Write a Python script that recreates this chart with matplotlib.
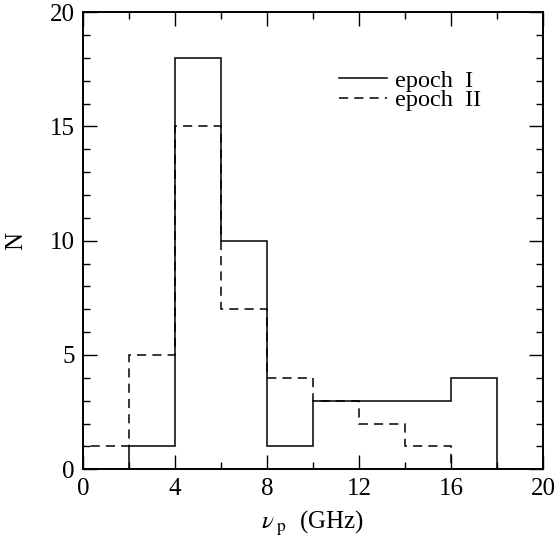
import numpy as np
import matplotlib
matplotlib.use("Agg")
import matplotlib.pyplot as plt
from matplotlib.ticker import MultipleLocator

# histogram bins (GHz) and counts per epoch
bin_edges = [0, 2, 4, 6, 8, 10, 12, 14, 16, 18, 20]
counts_epoch1 = [0, 1, 18, 10, 1, 3, 3, 3, 4, 0]
counts_epoch2 = [1, 5, 15, 7, 4, 3, 2, 1, 0, 0]
labels = ["epoch  I", "epoch  II"]

plt.rcParams["font.family"] = ["Liberation Serif", "DejaVu Serif"]
plt.rcParams["mathtext.fontset"] = "stix"

fig = plt.figure(figsize=(5.6, 5.54), dpi=100)
ax = fig.add_axes([0.148, 0.153, 0.822, 0.825])

ax.stairs(counts_epoch1, bin_edges, color="black", linewidth=1.1,
          label=labels[0])
ax.stairs(counts_epoch2, bin_edges, color="black", linewidth=1.1,
          linestyle=(0, (6, 4)), label=labels[1])

ax.set_xlim(0, 20)
ax.set_ylim(0, 20)
ax.xaxis.set_major_locator(MultipleLocator(4))
ax.xaxis.set_minor_locator(MultipleLocator(2))
ax.yaxis.set_major_locator(MultipleLocator(5))
ax.yaxis.set_minor_locator(MultipleLocator(1))
ax.tick_params(which="both", direction="in", top=True, right=True,
               labelsize=18, width=1)
ax.tick_params(which="major", length=10, pad=6)
ax.tick_params(which="minor", length=5)
for s in ax.spines.values():
    s.set_linewidth(1.4)

ax.set_xlabel(r"$\nu_{\rm\ p}$  (GHz)", fontsize=18, labelpad=7)
ax.set_ylabel("N", fontsize=18, labelpad=16)

ax.legend(loc="upper left", bbox_to_anchor=(0.535, 0.895), frameon=False,
          fontsize=17.5, handlelength=2.0, handletextpad=0.3,
          labelspacing=-0.12, borderaxespad=0.0)

fig.savefig("out.png", dpi=100)
